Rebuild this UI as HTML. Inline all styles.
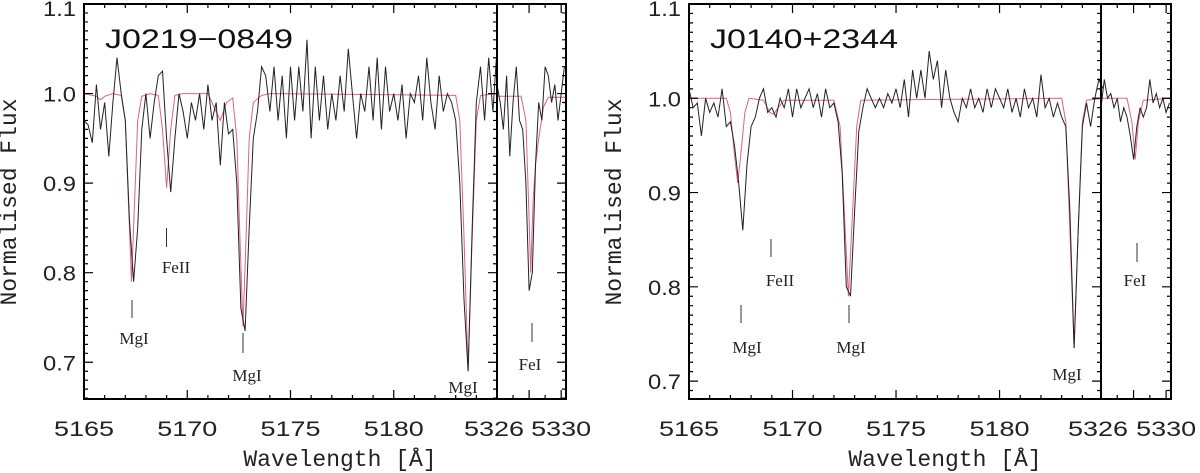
<!DOCTYPE html>
<html><head><meta charset="utf-8"><style>
html,body{margin:0;padding:0;background:#fff;}
svg{display:block;}
</style></head><body>
<svg id="fig" width="1200" height="473" viewBox="0 0 1200 473" xmlns="http://www.w3.org/2000/svg"></svg>
<script>
// ---- data ----
const gridStartMain = 5165.0;
const gridStepMain = 0.2;
const gridStartSub = 5326.0;
const gridStepSub = 0.2;

const fluxLeftMain = [0.97,0.965,0.945,1.01,0.96,0.99,0.93,0.99,1.04,1.0,
0.97,0.86,0.79,0.85,0.96,1.0,0.95,0.99,1.02,1.025,
0.95,0.89,0.95,1.0,0.98,0.95,0.99,0.97,1.0,0.96,
1.01,0.97,0.99,0.92,0.99,0.955,0.96,0.9,0.76,0.735,
0.85,0.95,0.98,1.03,1.02,0.98,1.03,0.97,1.02,0.95,
1.03,0.97,1.03,0.98,1.06,0.95,1.03,0.97,1.02,0.96,
1.0,0.97,1.02,0.98,1.05,1.0,0.95,1.0,0.98,1.03,
0.97,1.04,0.96,1.03,0.98,1.0,0.97,1.01,0.95,1.0,
0.99,1.02,0.97,1.04,0.99,0.96,1.02,0.98,1.0,0.99,
0.97,0.9,0.77,0.69,0.85,0.99,1.03,0.97,1.04,0.98,1.05];
const fluxLeftSub = [1.01,0.99,0.96,1.02,0.93,0.99,1.03,0.97,0.96,0.9,0.78,0.8,0.92,0.99,0.97,1.03,1.02,0.99,1.01,0.97,1.0,1.03];
const modelLeftMainWave = [5165.0,5165.6,5165.8,5166.0,5166.4,5166.8,5167.0,5167.15,5167.3,5167.45,5167.6,5167.8,5168.2,5168.6,5168.8,5169.0,5169.2,5169.4,5169.8,5171.0,5171.3,5171.6,5171.9,5172.2,5172.4,5172.55,5172.7,5172.85,5173.0,5173.2,5173.6,5174.0,5183.0,5183.2,5183.4,5183.6,5183.8,5184.0,5184.2,5185.0];
const modelLeftMainFlux = [1.0,0.997,0.993,0.997,1.0,0.998,0.97,0.88,0.79,0.88,0.97,0.997,1.0,0.998,0.96,0.895,0.96,0.998,1.0,1.0,0.985,0.97,0.99,0.995,0.95,0.84,0.74,0.84,0.95,0.99,0.998,1.0,0.998,0.97,0.84,0.69,0.84,0.97,0.998,1.0];
const modelLeftSubWave = [5326.0,5327.5,5327.8,5328.0,5328.1,5328.25,5328.4,5328.6,5328.9,5329.2,5330.3];
const modelLeftSubFlux = [0.997,0.997,0.97,0.86,0.8,0.88,0.92,0.95,0.985,0.996,0.996];

const fluxRightMain = [1.01,0.99,0.995,0.96,1.0,0.985,0.995,0.98,1.01,0.97,
0.975,0.95,0.91,0.86,0.93,0.97,0.98,1.0,1.01,0.985,
0.99,0.98,1.0,0.99,1.01,0.98,1.01,0.99,1.0,1.01,
0.99,1.005,0.98,1.01,0.99,0.995,0.975,0.92,0.8,0.79,
0.88,0.965,0.99,1.01,1.0,0.99,1.0,0.99,1.005,0.995,
1.01,0.99,1.02,0.98,1.03,1.0,1.03,1.0,1.05,1.02,
1.04,0.99,1.03,1.0,0.985,0.975,1.0,0.99,1.01,0.99,
1.0,0.985,1.01,0.99,1.01,1.0,0.99,1.01,0.985,1.0,
0.98,1.01,0.99,1.0,0.98,1.025,0.99,1.0,0.98,0.995,
0.98,0.97,0.88,0.735,0.86,0.97,0.995,0.97,1.0,1.02,1.01];
const fluxRightSub = [0.99,1.02,1.0,1.005,0.99,1.0,0.975,0.99,0.98,0.96,0.935,0.97,0.99,0.98,0.99,1.02,0.995,1.005,0.99,1.0,0.985,0.995];
const modelRightMainWave = [5165.0,5166.8,5167.0,5167.2,5167.35,5167.5,5167.7,5167.9,5168.6,5168.9,5169.1,5169.3,5169.6,5172.0,5172.3,5172.5,5172.7,5172.9,5173.1,5173.3,5183.0,5183.2,5183.4,5183.6,5183.8,5184.0,5184.2,5185.0];
const modelRightMainFlux = [1.0,1.0,0.985,0.94,0.91,0.94,0.985,1.0,0.998,0.985,0.983,0.99,0.998,0.998,0.97,0.88,0.79,0.88,0.97,0.998,1.0,0.975,0.86,0.735,0.86,0.975,0.998,1.0];
const modelRightSubWave = [5326.0,5327.6,5327.9,5328.1,5328.3,5328.6,5330.3];
const modelRightSubFlux = [1.0,1.0,0.975,0.935,0.975,0.998,1.0];

const yTickValues = [0.7,0.8,0.9,1.0,1.1];
const yTickLabels = ["0.7","0.8","0.9","1.0","1.1"];
const xTickValues = [5165,5170,5175,5180];
const xTickLabels = ["5165","5170","5175","5180"];
const subTickValues = [5326,5330];
const subTickLabels = ["5326","5330"];
const starNames = ["J0219\u22120849","J0140+2344"];

// ---- layout (geometry, not data) ----
const panels = [
 {id:'left', L:84, D:497, R:566, T:4, B:399, yTop:1.1, yBot:0.659, x0:5165, x1:5185, s0:5326, s1:5330.3,
  flux:fluxLeftMain, sub:fluxLeftSub, mw:modelLeftMainWave, mf:modelLeftMainFlux, sw:modelLeftSubWave, sf:modelLeftSubFlux,
  name:starNames[0],
  ann:[{t:'MgI',x:132,y1:300,y2:318,ly:344},{t:'FeII',x:166.5,y1:228,y2:247,ly:273,lx:176},{t:'MgI',x:243,y1:333,y2:353,ly:381,lx:247},{t:'MgI',x:null,ly:393,lx:463},{t:'FeI',x:532,y1:323,y2:342,ly:370,lx:530}]},
 {id:'right', L:689, D:1101, R:1171, T:4, B:399, yTop:1.1, yBot:0.681, x0:5165, x1:5184.9, s0:5326, s1:5330.3,
  flux:fluxRightMain, sub:fluxRightSub, mw:modelRightMainWave, mf:modelRightMainFlux, sw:modelRightSubWave, sf:modelRightSubFlux,
  name:starNames[1],
  ann:[{t:'MgI',x:741,y1:305,y2:323,ly:353,lx:747},{t:'FeII',x:771,y1:239,y2:257,ly:286,lx:780},{t:'MgI',x:849,y1:305,y2:323,ly:353,lx:851},{t:'MgI',x:null,ly:380,lx:1067},{t:'FeI',x:1137,y1:243,y2:262,ly:286,lx:1135}]}
];

const NS='http://www.w3.org/2000/svg';
const svg=document.getElementById('fig');
function mk(tag,attrs,parent){const e=document.createElementNS(NS,tag);for(const k in attrs)e.setAttribute(k,attrs[k]);(parent||svg).appendChild(e);return e;}

panels.forEach(p=>{
  const g=mk('g',{});
  
  
  const ys=v=>p.T+(p.yTop-v)/(p.yTop-p.yBot)*(p.B-p.T);
  const xs=w=>p.L+(w-p.x0)/(p.x1-p.x0)*(p.D-p.L);
  const xsub=w=>p.D+(w-p.s0)/(p.s1-p.s0)*(p.R-p.D);

  const m1=mk('polyline',{points:p.mw.map((w,i)=>xs(w).toFixed(1)+','+ys(p.mf[i]).toFixed(1)).join(' '),fill:'none',stroke:'#e0608a','stroke-width':1},g);
  
  
  const m2=mk('polyline',{points:p.sw.map((w,i)=>xsub(w).toFixed(1)+','+ys(p.sf[i]).toFixed(1)).join(' '),fill:'none',stroke:'#e0608a','stroke-width':1},g);
  
  
  const o1=mk('polyline',{points:p.flux.map((f,i)=>xs(gridStartMain+i*gridStepMain).toFixed(1)+','+ys(f).toFixed(1)).join(' '),fill:'none',stroke:'#222','stroke-width':1},g);
  
  
  const o2=mk('polyline',{points:p.sub.map((f,i)=>xsub(gridStartSub+i*gridStepSub).toFixed(1)+','+ys(f).toFixed(1)).join(' '),fill:'none',stroke:'#222','stroke-width':1},g);
  
  

  const fr=mk('rect',{x:p.L,y:p.T,width:p.R-p.L,height:p.B-p.T,fill:'none',stroke:'#000','stroke-width':2},g);
  
  
  const dv=mk('line',{x1:p.D,y1:p.T,x2:p.D,y2:p.B,stroke:'#000','stroke-width':2},g);
  
  

  let tk='';
  for(let k=66;k<=110;k++){ const v=k/100; if(v<p.yBot) continue; const y=ys(v); const major=(k%10===0); const len=major?9:4;
    tk+=`M${p.L},${y}h${len}M${p.D},${y}h${-len}M${p.R},${y}h${-len}`; }
  for(let w=p.x0+1;w<p.x1;w++){const x=xs(w);const len=(w%5===0)?9:4;tk+=`M${x},${p.B}v${-len}M${x},${p.T}v${len}`;}
  for(let w=p.s0+1;w<p.s1;w++){const x=xsub(w);const len=(w%2===0)?9:4;tk+=`M${x},${p.B}v${-len}M${x},${p.T}v${len}`;}
  const tp=mk('path',{d:tk,stroke:'#000','stroke-width':1.2,fill:'none'},g);
  
  

  yTickValues.forEach((v,i)=>{const t=mk('text',{x:p.L-8,y:ys(v)+8+(i===4?4:0),'text-anchor':'end','font-family':'Liberation Sans, sans-serif','font-size':21,fill:'#222',textLength:33,lengthAdjust:'spacingAndGlyphs'},g);t.textContent=yTickLabels[i];
    
    });
  xTickValues.forEach((v,i)=>{const t=mk('text',{x:xs(v)-30,y:436,'font-family':'Liberation Sans, sans-serif','font-size':21,fill:'#222',textLength:60,lengthAdjust:'spacingAndGlyphs'},g);t.textContent=xTickLabels[i];
    
    });
  subTickValues.forEach((v,i)=>{const t=mk('text',{x:xsub(v)-30+(i===0?-3:0),y:436,'font-family':'Liberation Sans, sans-serif','font-size':21,fill:'#222',textLength:60,lengthAdjust:'spacingAndGlyphs'},g);t.textContent=subTickLabels[i];
    
    });

  const xt=mk('text',{x:(p.L+p.R)/2+15,y:466,'text-anchor':'middle','font-family':'Liberation Mono, monospace','font-size':23,fill:'#222'},g);
  xt.textContent='Wavelength [Å]';
  
  
  const cx=p.L-68, cy=202;
  const yt=mk('text',{x:cx,y:cy,'text-anchor':'middle','font-family':'Liberation Mono, monospace','font-size':23,fill:'#222',transform:`rotate(-90 ${cx} ${cy})`},g);
  yt.textContent='Normalised Flux';
  
  

  const nm=mk('text',{x:p.L+21,y:48,'font-family':'Liberation Sans, sans-serif','font-size':27,fill:'#111',textLength:188,lengthAdjust:'spacingAndGlyphs'},g);
  nm.textContent=p.name;
  
  

  p.ann.forEach(a=>{
    if(a.x!==null){const l=mk('line',{x1:a.x,y1:a.y1,x2:a.x,y2:a.y2,stroke:'#333','stroke-width':1},g);
      
      }
    const t=mk('text',{x:a.lx!==undefined?a.lx:a.x+2,y:a.ly,'text-anchor':'middle','font-family':'Liberation Serif, serif','font-size':17,fill:'#222'},g);
    t.textContent=a.t;
    
    
  });
});
</script>
</body></html>
